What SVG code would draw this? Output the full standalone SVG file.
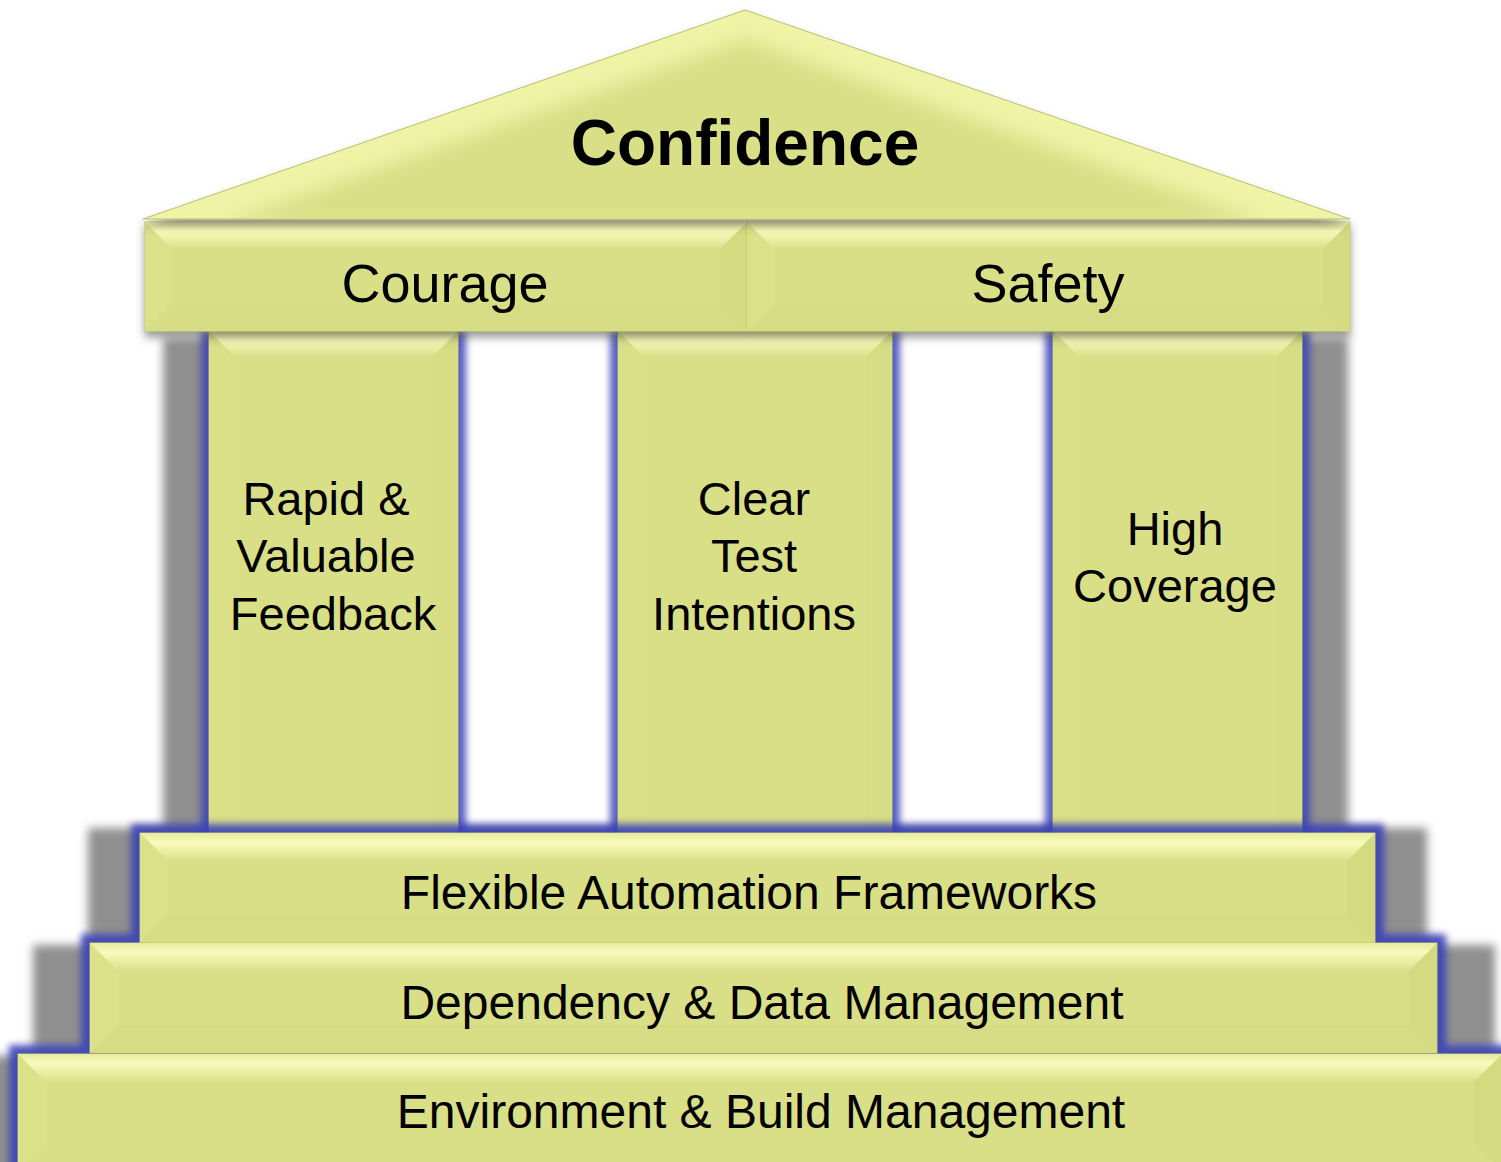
<svg xmlns="http://www.w3.org/2000/svg" width="1501" height="1162" viewBox="0 0 1501 1162">
<defs>
<style>
.base{fill:#d8df86;stroke:#bcc370;stroke-width:1}
.bt{fill:url(#gTop)}
.bl{fill:#dae188}
.br{fill:#d3da80}
.bb{fill:#d5dc83}
.cl{fill:#d9e087}
.cr{fill:#d6dd84}
.glow{fill:#3a43b6}
.shd{fill:#8f8f8f}
.t{font-family:"Liberation Sans",Arial,sans-serif;fill:#000;text-anchor:middle}
.t47{font-size:47px}
.t48{font-size:48px}
.t54{font-size:54px}
</style>
<linearGradient id="gTop" x1="0" y1="0" x2="0" y2="1">
<stop offset="0" stop-color="#e6ec9c"/>
<stop offset="0.35" stop-color="#f7fbbb"/>
<stop offset="1" stop-color="#d9e089"/>
</linearGradient>
<filter id="fShadow" x="-10%" y="-10%" width="120%" height="120%">
<feGaussianBlur stdDeviation="5"/>
</filter>
<filter id="fGlow" x="-10%" y="-10%" width="120%" height="120%">
<feGaussianBlur stdDeviation="3.5"/>
</filter>
<filter id="fSoft" x="-10%" y="-10%" width="120%" height="120%">
<feGaussianBlur stdDeviation="9"/>
</filter>
<filter id="fDrop" x="-5%" y="-20%" width="110%" height="150%">
<feDropShadow dx="0" dy="6" stdDeviation="4" flood-color="#4a4a40" flood-opacity="0.55"/>
</filter>
<clipPath id="roofClip">
<polygon points="745,10 1350,219 143,219"/>
</clipPath>
</defs>

<rect x="0" y="0" width="1501" height="1162" fill="#ffffff"/>

<g id="shadows" filter="url(#fShadow)">
<rect class="shd" x="163" y="338" width="269" height="497"/>
<rect class="shd" x="1078" y="338" width="270" height="497"/>
<rect class="shd" x="88" y="828" width="1339" height="115"/>
<rect class="shd" x="33" y="945" width="1462" height="108"/>
<rect class="shd" x="-45" y="1056" width="1600" height="120"/>
</g>

<g id="connectors"/>

<g id="column-rapid">
<rect class="glow" x="201" y="331" width="265" height="510" filter="url(#fGlow)" opacity="0.85"/>
<rect class="base" x="209" y="331" width="249" height="504"/>
<polygon class="cl" points="209,331 235,357 235,835 209,835"/>
<polygon class="cr" points="458,331 458,835 432,835 432,357"/>
<polygon class="bt" points="209,331 458,331 432,357 235,357"/>
<text class="t t47" x="326" y="515">Rapid &amp;</text>
<text class="t t47" x="326" y="572">Valuable</text>
<text class="t t47" x="333" y="630">Feedback</text>
</g>

<g id="column-clear">
<rect class="glow" x="610" y="331" width="290" height="510" filter="url(#fGlow)" opacity="0.85"/>
<rect class="base" x="618" y="331" width="274" height="504"/>
<polygon class="cl" points="618,331 644,357 644,835 618,835"/>
<polygon class="cr" points="892,331 892,835 866,835 866,357"/>
<polygon class="bt" points="618,331 892,331 866,357 644,357"/>
<text class="t t47" x="754" y="515">Clear</text>
<text class="t t47" x="754" y="572">Test</text>
<text class="t t47" x="754" y="630">Intentions</text>
</g>

<g id="column-coverage">
<rect class="glow" x="1045" y="331" width="265" height="510" filter="url(#fGlow)" opacity="0.85"/>
<rect class="base" x="1053" y="331" width="249" height="504"/>
<polygon class="cl" points="1053,331 1079,357 1079,835 1053,835"/>
<polygon class="cr" points="1302,331 1302,835 1276,835 1276,357"/>
<polygon class="bt" points="1053,331 1302,331 1276,357 1079,357"/>
<text class="t t47" x="1175" y="545">High</text>
<text class="t t47" x="1175" y="602">Coverage</text>
</g>

<g id="steps-glow" filter="url(#fGlow)" opacity="0.9">
<rect class="glow" x="131" y="824" width="1253" height="128"/>
<rect class="glow" x="81" y="934" width="1365" height="128"/>
<rect class="glow" x="9" y="1045" width="1510" height="130"/>
</g>

<g id="step-flexible">
<rect class="base" x="140" y="833" width="1235" height="110"/>
<polygon class="bl" points="140,833 168,861 168,915 140,943"/>
<polygon class="br" points="1375,833 1375,943 1347,915 1347,861"/>
<polygon class="bb" points="140,943 168,915 1347,915 1375,943"/>
<polygon class="bt" points="140,833 1375,833 1347,861 168,861"/>
<text class="t t48" x="749" y="909">Flexible Automation Frameworks</text>
</g>

<g id="step-dependency">
<rect class="base" x="90" y="943" width="1347" height="110"/>
<polygon class="bl" points="90,943 118,971 118,1025 90,1053"/>
<polygon class="br" points="1437,943 1437,1053 1409,1025 1409,971"/>
<polygon class="bb" points="90,1053 118,1025 1409,1025 1437,1053"/>
<polygon class="bt" points="90,943 1437,943 1409,971 118,971"/>
<text class="t t48" x="762" y="1019">Dependency &amp; Data Management</text>
</g>

<g id="step-environment">
<rect class="base" x="18" y="1054" width="1484" height="116"/>
<polygon class="bl" points="18,1054 46,1082 46,1142 18,1170"/>
<polygon class="br" points="1502,1054 1502,1170 1474,1142 1474,1082"/>
<polygon class="bt" points="18,1054 1502,1054 1474,1082 46,1082"/>
<text class="t t48" x="761" y="1128">Environment &amp; Build Management</text>
</g>

<g id="beam" filter="url(#fDrop)">
<g id="beam-courage">
<rect class="base" x="145" y="222" width="602" height="109"/>
<polygon class="bl" points="145,222 172,249 172,304 145,331"/>
<polygon class="br" points="747,222 747,331 720,304 720,249"/>
<polygon class="bb" points="145,331 172,304 720,304 747,331"/>
<polygon class="bt" points="145,222 747,222 720,249 172,249"/>
<text class="t t54" x="445" y="302">Courage</text>
</g>
<g id="beam-safety">
<rect class="base" x="747" y="222" width="603" height="109"/>
<polygon class="bl" points="747,222 774,249 774,304 747,331"/>
<polygon class="br" points="1350,222 1350,331 1323,304 1323,249"/>
<polygon class="bb" points="747,331 774,304 1323,304 1350,331"/>
<polygon class="bt" points="747,222 1350,222 1323,249 774,249"/>
<text class="t t54" x="1048" y="302">Safety</text>
</g>
</g>

<g id="roof">
<g filter="url(#fDrop)">
<polygon points="745,10 1350,219 143,219" fill="#eef3a6" stroke="#b9c06c" stroke-width="1"/>
</g>
<g clip-path="url(#roofClip)">
<polygon points="745,40 1270,224 220,224" fill="#d8df86" filter="url(#fSoft)"/>
</g>
<text class="t" x="745" y="165" font-size="64" font-weight="bold">Confidence</text>
</g>
</svg>
